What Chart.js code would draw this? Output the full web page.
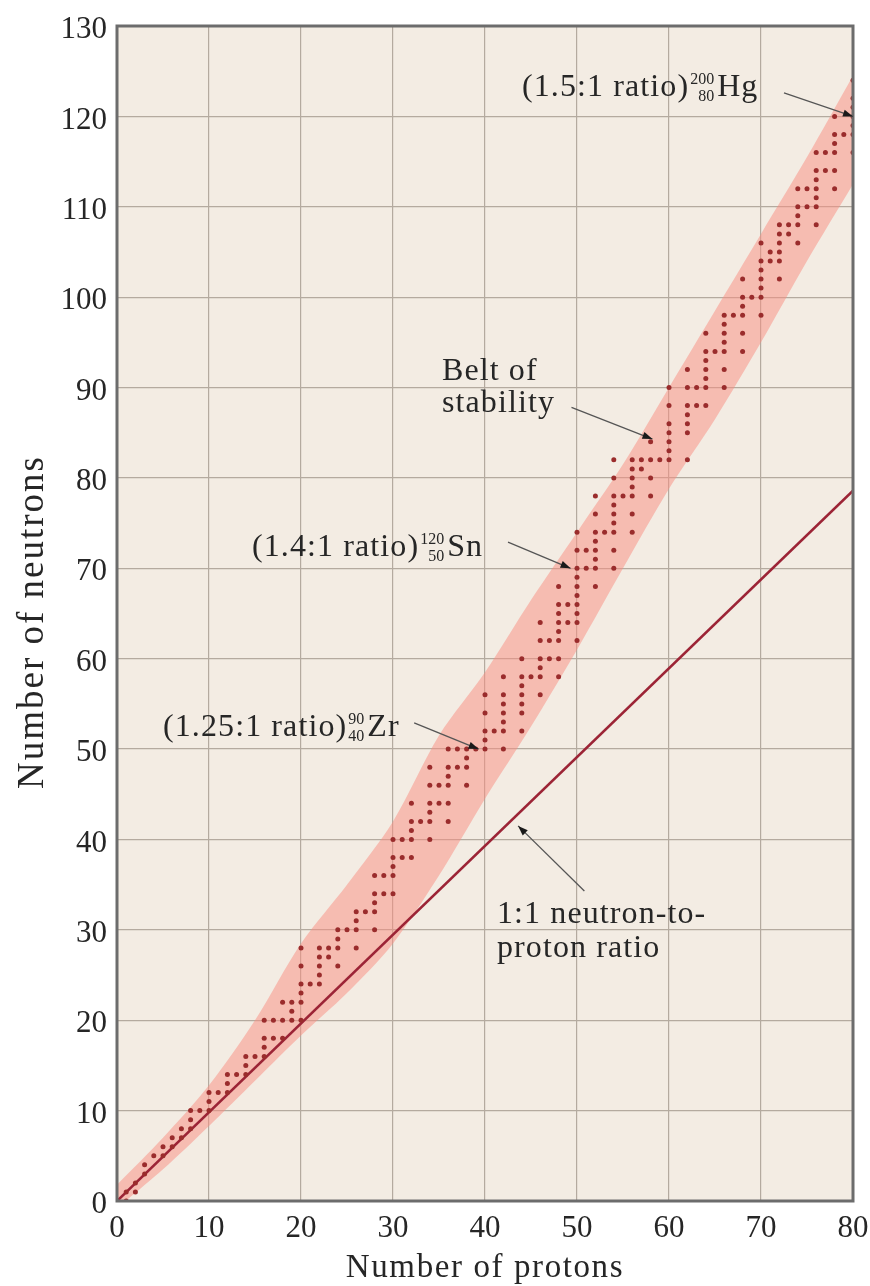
<!DOCTYPE html>
<html>
<head>
<meta charset="utf-8">
<script src="https://cdn.jsdelivr.net/npm/chart.js@4.4.1/dist/chart.umd.min.js"></script>
<style>
html,body{margin:0;padding:0;background:#ffffff;}
#wrap{width:870px;height:1286px;position:relative;}
</style>
</head>
<body>
<div id="wrap"><canvas id="c"></canvas></div>
<script>
// ---- data ----
const protonNumbers = [];
for (let z = 1; z <= 80; z++) protonNumbers.push(z);

// stable neutron counts for each proton number 1..80
const stableNeutronCounts = [
  [0,1],[1,2],[3,4],[5],[5,6],[6,7],[7,8],[8,9,10],[10],[10,11,12],
  [12],[12,13,14],[14],[14,15,16],[16],[16,17,18,20],[18,20],[18,20,22],[20,21,22],[20,22,23,24,26,28],
  [24],[24,25,26,27,28],[27,28],[26,28,29,30],[30],[28,30,31,32],[32],[30,32,33,34,36],[34,36],[34,36,37,38,40],
  [38,40],[38,40,41,42,44],[42],[40,42,43,44,46,48],[44,46],[42,44,46,47,48,50],[48,50],[46,48,49,50],[50],[50,51,52,54,56],
  [52],[50,52,53,54,55,56,58],[],[52,54,55,56,57,58,60],[58],[56,58,59,60,62,64],[60,62],[58,60,62,63,64,65,66,68],[64,66],[62,64,65,66,67,68,69,70,72,74],
  [70,72],[68,70,71,72,73,74,76,78],[74],[70,72,74,75,76,77,78,80,82],[78],[74,76,78,79,80,81,82],[81,82],[78,80,82,84],[82],[82,83,84,85,86,88,90],
  [],[82,85,86,87,88,90,92],[88,90],[88,90,91,92,93,94,96],[94],[90,92,94,95,96,97,98],[98],[94,96,98,99,100,102],[100],[98,100,101,102,103,104,106],
  [104,105],[102,104,105,106,107,108],[107,108],[106,108,109,110,112],[110,112],[108,110,111,112,113,114,116],[114,116],[112,114,116,117,118,120],[118],[116,118,119,120,121,122,124]
];

// belt of stability outline (neutron number at given proton number)
const beltZ      = [0,   5,   10,   15,   20,   25,   30,   35,   40,   45,   50, 55,   60,   65,   70,  75,    80];
const beltUpperN = [1.8, 7,   12.8, 20,   28.5, 35,   42,   51.5, 58.5, 66.5, 74, 81.5, 90,   98.5, 107, 115.5, 124.5];
const beltLowerN = [-0.8,3.5, 8.3,  13.3, 18.3, 23,   28.5, 36,   44.5, 52.5, 61, 70,   78.8, 86.5, 95,  104,   112.5];

// reference line
const ratioLineZ = [0, 80];
const ratioLineN = [0, 78.6];

// axis ranges / ticks
const xMin = 0, xMax = 80, xStep = 10;
const yMin = 0, yMax = 130, yStep = 10;

const xTitle = 'Number of protons';
const yTitle = 'Number of neutrons';

// annotation pointers in data units: [tailZ, tailN, tipZ, tipN]
const pointerHg   = [72.5, 122.6, 80.0, 120.0];
const pointerBelt = [49.4, 87.8, 58.2, 84.3];
const pointerSn   = [42.5, 72.9, 49.3, 70.0];
const pointerZr   = [32.3, 52.9, 39.3, 50.0];
const pointerUnit = [50.8, 34.3, 43.6, 41.5];

// ---- build datasets ----
const nuclidePoints = [];
protonNumbers.forEach((z, i) => {
  stableNeutronCounts[i].forEach(n => nuclidePoints.push({x: z, y: n}));
});
const upperPts = beltZ.map((z, i) => ({x: z, y: beltUpperN[i]}));
const lowerPts = beltZ.map((z, i) => ({x: z, y: beltLowerN[i]}));
const linePts = ratioLineZ.map((z, i) => ({x: z, y: ratioLineN[i]}));

const SERIF = '"Liberation Serif", "Times New Roman", serif';
const TEXT = '#262626';
const NOTE_FONT = '32px ' + SERIF;
const NOTE_SPACING = '1.1px';

function drawArrow(ctx, chart, p) {
  const xs = chart.scales.x, ys = chart.scales.y;
  const x1 = xs.getPixelForValue(p[0]), y1 = ys.getPixelForValue(p[1]);
  const x2 = xs.getPixelForValue(p[2]), y2 = ys.getPixelForValue(p[3]);
  ctx.save();
  ctx.strokeStyle = '#555';
  ctx.lineWidth = 1.3;
  ctx.beginPath(); ctx.moveTo(x1, y1); ctx.lineTo(x2, y2); ctx.stroke();
  const ang = Math.atan2(y2 - y1, x2 - x1);
  const L = 10, W = 3.6;
  ctx.fillStyle = '#1a1a1a';
  ctx.beginPath();
  ctx.moveTo(x2, y2);
  ctx.lineTo(x2 - L*Math.cos(ang) + W*Math.sin(ang), y2 - L*Math.sin(ang) - W*Math.cos(ang));
  ctx.lineTo(x2 - L*Math.cos(ang) - W*Math.sin(ang), y2 - L*Math.sin(ang) + W*Math.cos(ang));
  ctx.closePath(); ctx.fill();
  ctx.restore();
}

function isoLabel(ctx, x, y, prefix, mass, atomic, sym) {
  ctx.save();
  ctx.fillStyle = TEXT;
  ctx.textBaseline = 'alphabetic';
  ctx.textAlign = 'left';
  ctx.letterSpacing = NOTE_SPACING;
  ctx.font = NOTE_FONT;
  ctx.fillText(prefix, x, y);
  const w = ctx.measureText(prefix).width;
  const sx = x + w + 1;
  ctx.letterSpacing = '0px';
  ctx.font = '16px ' + SERIF;
  const sw = Math.max(ctx.measureText(mass).width, ctx.measureText(atomic).width);
  ctx.textAlign = 'right';
  ctx.fillText(mass, sx + sw, y - 12);
  ctx.fillText(atomic, sx + sw, y + 5);
  ctx.textAlign = 'left';
  ctx.letterSpacing = NOTE_SPACING;
  ctx.font = NOTE_FONT;
  ctx.fillText(sym, sx + sw + 3, y);
  ctx.restore();
}

function plainText(ctx, x, y, str) {
  ctx.save();
  ctx.fillStyle = TEXT;
  ctx.textBaseline = 'alphabetic';
  ctx.textAlign = 'left';
  ctx.letterSpacing = NOTE_SPACING;
  ctx.font = NOTE_FONT;
  ctx.fillText(str, x, y);
  ctx.restore();
}

const decorPlugin = {
  id: 'decor',
  beforeDraw(chart) {
    const {ctx, chartArea: a} = chart;
    ctx.save();
    ctx.fillStyle = '#f3ece3';
    ctx.fillRect(a.left, a.top, a.right - a.left, a.bottom - a.top);
    ctx.restore();
  },
  afterDraw(chart) {
    const {ctx, chartArea: a} = chart;
    // frame
    ctx.save();
    ctx.strokeStyle = '#6c6c6c';
    ctx.lineWidth = 3;
    ctx.strokeRect(a.left, a.top, a.right - a.left, a.bottom - a.top);
    ctx.restore();

    // axis titles
    ctx.save();
    ctx.fillStyle = TEXT;
    ctx.font = '33px ' + SERIF;
    ctx.letterSpacing = '1.6px';
    ctx.textAlign = 'center';
    ctx.textBaseline = 'alphabetic';
    ctx.fillText(xTitle, (a.left + a.right) / 2 + 0, 1277);
    ctx.font = '37px ' + SERIF;
    ctx.letterSpacing = '2px';
    ctx.translate(43, 622);
    ctx.rotate(-Math.PI / 2);
    ctx.fillText(yTitle, 0, 0);
    ctx.restore();

    // annotations
    isoLabel(ctx, 522, 96, '(1.5:1 ratio)', '200', '80', 'Hg');
    isoLabel(ctx, 252, 556, '(1.4:1 ratio)', '120', '50', 'Sn');
    isoLabel(ctx, 163, 736, '(1.25:1 ratio)', '90', '40', 'Zr');
    plainText(ctx, 442, 380, 'Belt of');
    plainText(ctx, 442, 412, 'stability');
    plainText(ctx, 497, 923, '1:1 neutron-to-');
    plainText(ctx, 497, 957, 'proton ratio');

    drawArrow(ctx, chart, pointerHg);
    drawArrow(ctx, chart, pointerBelt);
    drawArrow(ctx, chart, pointerSn);
    drawArrow(ctx, chart, pointerZr);
    drawArrow(ctx, chart, pointerUnit);
  }
};

new Chart(document.getElementById('c'), {
  type: 'scatter',
  data: {
    datasets: [
      {
        label: 'belt lower',
        type: 'line',
        data: lowerPts,
        borderWidth: 0,
        pointRadius: 0,
        fill: false,
        tension: 0.3,
        order: 5
      },
      {
        label: 'belt upper',
        type: 'line',
        data: upperPts,
        borderWidth: 0,
        pointRadius: 0,
        fill: '-1',
        backgroundColor: 'rgba(250,140,128,0.5)',
        tension: 0.3,
        order: 4
      },
      {
        label: '1:1',
        type: 'line',
        data: linePts,
        borderColor: '#9c2436',
        borderWidth: 2.6,
        pointRadius: 0,
        fill: false,
        order: 3
      },
      {
        label: 'stable nuclides',
        data: nuclidePoints,
        pointRadius: 2.5,
        pointBackgroundColor: '#9a2c2c',
        pointBorderWidth: 0,
        order: 1
      }
    ]
  },
  options: {
    responsive: true,
    maintainAspectRatio: false,
    animation: false,
    layout: { padding: { top: 26, right: 17, left: 0, bottom: 0 } },
    plugins: {
      legend: { display: false },
      tooltip: { enabled: false }
    },
    scales: {
      x: {
        type: 'linear',
        min: xMin, max: xMax,
        afterFit(scale) { scale.height = 85; scale.paddingRight = 0; scale.paddingLeft = 0; },
        ticks: {
          stepSize: xStep,
          padding: 9,
          color: TEXT,
          font: { family: SERIF, size: 31 }
        },
        grid: { color: '#b4aa9f', lineWidth: 1.2, drawTicks: false },
        border: { display: false }
      },
      y: {
        type: 'linear',
        min: yMin, max: yMax,
        afterFit(scale) { scale.width = 117; scale.paddingTop = 0; scale.paddingBottom = 0; },
        ticks: {
          stepSize: yStep,
          padding: 10,
          labelOffset: 4,
          color: TEXT,
          font: { family: SERIF, size: 31 }
        },
        grid: { color: '#b4aa9f', lineWidth: 1.2, drawTicks: false },
        border: { display: false }
      }
    }
  },
  plugins: [decorPlugin]
});
</script>
</body>
</html>
